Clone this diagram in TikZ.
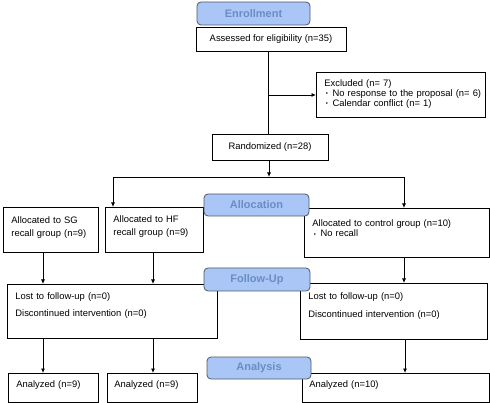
\documentclass[tikz,border=0pt]{standalone}
\usepackage{fontspec}
\setmainfont{Liberation Sans}
\usetikzlibrary{arrows.meta}
\definecolor{lblfill}{HTML}{A9C6F7}
\definecolor{lbldraw}{HTML}{4F5868}
\definecolor{lbltext}{HTML}{6A8DC4}
\newcommand\fsz[1]{\fontsize{9.4}{#1}\selectfont}
\newcommand\bul{\hspace{1.5pt}\raisebox{0.8pt}{\fontsize{6}{6}\selectfont•}\hspace{4.5pt}}
\begin{document}
\begin{tikzpicture}[x=1pt,y=-1pt,
  lbox/.style={draw=black,line width=0.8pt,rectangle,anchor=north west,inner xsep=8pt,inner ysep=0pt,align=left},
  cbox/.style={draw=black,line width=0.8pt,rectangle,inner sep=0pt,align=center,font=\fsz{11}},
  phase/.style={draw=lbldraw,line width=0.8pt,fill=lblfill,rounded corners=4pt,inner sep=0pt,
    text=lbltext,font=\fontsize{11}{13}\selectfont\bfseries},
  conn/.style={line width=0.8pt,draw=black},
  arr/.style={conn,-{Latex[length=4.5pt,width=4pt]}}]
\useasboundingbox (0,0) rectangle (490,403);
\fill[white] (0,0) rectangle (490,403);

% boxes
\node[cbox,minimum width=150pt,minimum height=24pt] (assess) at (271,39) {Assessed for eligibility (n=35)};
\node[lbox,text width=153pt,text height=14.3pt,text depth=30.7pt,font=\fsz{10}] (excl) at (316,72)
  {\mbox{Excluded (n= 7)}\\\mbox{\bul No response to the proposal (n= 6)}\\\mbox{\bul Calendar conflict (n= 1)}};
\node[cbox,minimum width=116pt,minimum height=26pt] (rand) at (270,147) {Randomized (n=28)};

\node[lbox,text width=79pt,text height=16pt,text depth=29pt,font=\fsz{13}] (sg) at (3,207)
  {Allocated to SG\\recall group (n=9)};
\node[lbox,text width=82pt,text height=15pt,text depth=30pt,font=\fsz{13.5}] (hf) at (105,207)
  {Allocated to HF\\recall group (n=9)};
\node[lbox,text width=169pt,text height=18pt,text depth=31pt,font=\fsz{10.5}] (ctrl) at (304,208)
  {\mbox{Allocated to control group (n=10)}\\\mbox{\bul No recall}};

\node[lbox,text width=194pt,text height=15.3pt,text depth=38.7pt,font=\fsz{17}] (fu1) at (7,284)
  {Lost to follow-up (n=0)\\Discontinued intervention (n=0)};
\node[lbox,text width=171pt,text height=16.3pt,text depth=39.7pt,font=\fsz{17.5}] (fu2) at (300,283)
  {Lost to follow-up (n=0)\\Discontinued intervention (n=0)};

\node[lbox,text width=74pt,text height=14.3pt,text depth=14.7pt,font=\fsz{11}] (an1) at (8,373) {Analyzed (n=9)};
\node[lbox,inner xsep=7pt,text width=76pt,text height=14.3pt,text depth=14.7pt,font=\fsz{11}] (an2) at (107,373) {Analyzed (n=9)};
\node[lbox,inner xsep=7pt,text width=173pt,text height=14.3pt,text depth=14.7pt,font=\fsz{11}] (an3) at (302,373) {Analyzed (n=10)};

% guide coordinates
\coordinate (xm) at (268,0);
\coordinate (xr) at (269,0);
\coordinate (xa) at (43,0);
\coordinate (xb) at (153,0);
\coordinate (xh) at (113,0);
\coordinate (xc) at (404,0);
\coordinate (xd) at (405,0);
\coordinate (br) at (268,95);
\coordinate (jn) at (269,177);
\coordinate (jl) at (113,177);
\coordinate (jr) at (404,177);

% connectors
\draw[conn] (assess.south -| xm) -- (rand.north -| xm);
\draw[arr] (br) -- (excl.west |- br);
\draw[arr] (rand.south -| xr) -- (jn);
\draw[conn] (jl) -- (jr);
\draw[arr] (jl) -- (hf.north -| xh);
\draw[arr] (jr) -- (ctrl.north -| xc);
\draw[arr] (sg.south -| xa) -- (fu1.north -| xa);
\draw[arr] (hf.south -| xb) -- (fu1.north -| xb);
\draw[arr] (ctrl.south -| xc) -- (fu2.north -| xc);
\draw[arr] (fu1.south -| xa) -- (an1.north -| xa);
\draw[arr] (fu1.south -| xb) -- (an2.north -| xb);
\draw[arr] (fu2.south -| xd) -- (an3.north -| xd);

% phase labels
\node[phase,minimum width=113pt,minimum height=23pt] (enr) at (253.5,13.5) {Enrollment};
\node[phase,minimum width=105pt,minimum height=22pt] (alloc) at (256.5,205) {Allocation};
\node[phase,minimum width=106pt,minimum height=23pt] (fol) at (257,279.5) {Follow-Up};
\node[phase,minimum width=104pt,minimum height=22pt] (anl) at (259,368) {Analysis};
\end{tikzpicture}
\end{document}
